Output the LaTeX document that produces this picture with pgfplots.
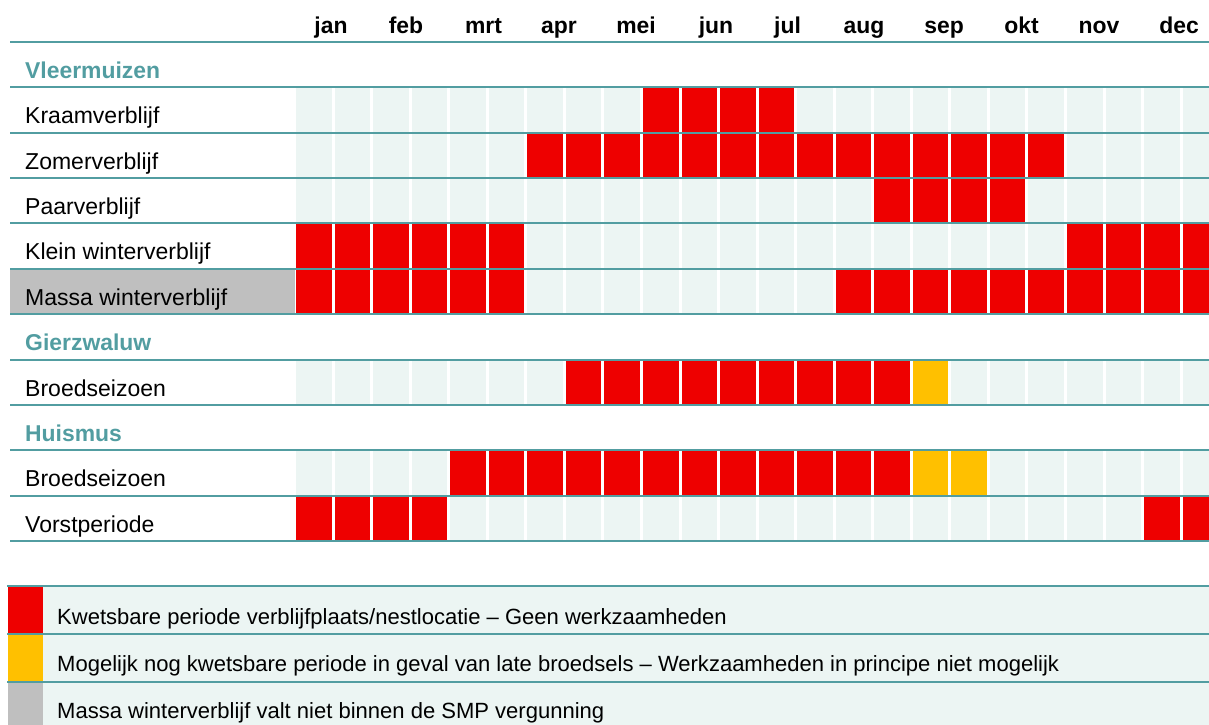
\documentclass[border=0pt]{standalone}
\usepackage{fontspec}
\setmainfont{Liberation Sans}
\usepackage{pgfplots}
\usepackage{pgfplotstable}
\pgfplotsset{compat=1.18}
\definecolor{teal1}{RGB}{82,157,161}
\definecolor{cellbg}{RGB}{236,245,243}
\definecolor{cred}{RGB}{238,0,0}
\definecolor{cyel}{RGB}{255,192,0}
\definecolor{cgray}{RGB}{191,191,191}
\pgfdeclareplotmark{cell}{\pgfpathrectangle{\pgfpoint{-17.775bp}{-23bp}}{\pgfpoint{35.55bp}{46bp}}\pgfusepathqfill}
% codes: 0 = free, 1 = kwetsbaar (rood), 2 = mogelijk kwetsbaar (geel)
\pgfplotstableread{
y c0 c1 c2 c3 c4 c5 c6 c7 c8 c9 c10 c11 c12 c13 c14 c15 c16 c17 c18 c19 c20 c21 c22 c23
110.0 0 0 0 0 0 0 0 0 0 1 1 1 1 0 0 0 0 0 0 0 0 0 0 0
155.5 0 0 0 0 0 0 1 1 1 1 1 1 1 1 1 1 1 1 1 1 0 0 0 0
200.5 0 0 0 0 0 0 0 0 0 0 0 0 0 0 0 1 1 1 1 0 0 0 0 0
246.0 1 1 1 1 1 1 0 0 0 0 0 0 0 0 0 0 0 0 0 0 1 1 1 1
291.5 1 1 1 1 1 1 0 0 0 0 0 0 0 0 1 1 1 1 1 1 1 1 1 1
382.5 0 0 0 0 0 0 0 1 1 1 1 1 1 1 1 1 2 0 0 0 0 0 0 0
473.0 0 0 0 0 1 1 1 1 1 1 1 1 1 1 1 1 2 2 0 0 0 0 0 0
518.5 1 1 1 1 0 0 0 0 0 0 0 0 0 0 0 0 0 0 0 0 0 0 1 1
}\cells
\newcommand\mlab[2]{\node[anchor=base, inner sep=0pt, font=\bfseries\fontsize{23}{23}\selectfont] at (axis cs:#1,33.5) {#2};}
\newcommand\glab[2]{\node[anchor=base west, inner sep=0pt, text=teal1, font=\bfseries\fontsize{23}{23}\selectfont] at (axis cs:25,#1) {#2};}
\newcommand\rlab[2]{\node[anchor=base west, inner sep=0pt, font=\fontsize{23.1}{23}\selectfont] at (axis cs:25,#1) {#2};}
\newcommand\llab[2]{\node[anchor=base west, inner sep=0pt, font=\fontsize{22.1}{22}\selectfont] at (axis cs:57,#1) {#2};}
\begin{document}
\begin{tikzpicture}
\begin{axis}[name=ax, hide axis, scale only axis, width=1209bp, height=725bp,
  xmin=0, xmax=1209, ymin=0, ymax=725, y dir=reverse,
  clip marker paths=true,
  scatter/classes={0={mark=cell,cellbg},1={mark=cell,cred},2={mark=cell,cyel}}]
% grey label background
\fill[cgray] (axis cs:10,269) rectangle (axis cs:295,314);
% cells
\pgfplotsinvokeforeach{0,...,23}{
  \addplot[scatter, only marks, scatter src=explicit symbolic]
    table[x expr={294.5+38.55*(#1+0.5)}, y=y, meta=c#1]{\cells};
}
% legend backgrounds
\fill[cred] (axis cs:8,586) rectangle (axis cs:43,634);
\fill[cyel] (axis cs:8,634) rectangle (axis cs:43,682);
\fill[cgray] (axis cs:8,682) rectangle (axis cs:43,730);
\fill[cellbg] (axis cs:43,586) rectangle (axis cs:1209,730);
% rules
\pgfplotsinvokeforeach{42,87,133,178,223,269,314,360,405,450,496,541}{
  \draw[teal1, line width=2.6bp] (axis cs:10,#1) -- (axis cs:1209,#1);
}
\pgfplotsinvokeforeach{586,634,682}{
  \draw[teal1, line width=2.6bp] (axis cs:7,#1) -- (axis cs:1209,#1);
}
% month labels
\mlab{331}{jan}\mlab{406}{feb}\mlab{483.5}{mrt}\mlab{559}{apr}\mlab{636}{mei}\mlab{716}{jun}
\mlab{787.5}{jul}\mlab{864}{aug}\mlab{944}{sep}\mlab{1021.5}{okt}\mlab{1099}{nov}\mlab{1179}{dec}
% group headers
\glab{78.3}{Vleermuizen}\glab{350.3}{Gierzwaluw}\glab{441.3}{Huismus}
% row labels
\rlab{123.3}{Kraamverblijf}
\rlab{169.3}{Zomerverblijf}
\rlab{214.3}{Paarverblijf}
\rlab{259.3}{Klein winterverblijf}
\rlab{305.3}{Massa winterverblijf}
\rlab{396.3}{Broedseizoen}
\rlab{486.3}{Broedseizoen}
\rlab{532.3}{Vorstperiode}
% legend texts
\llab{624.3}{Kwetsbare periode verblijfplaats/nestlocatie \textendash{} Geen werkzaamheden}
\llab{671.7}{Mogelijk nog kwetsbare periode in geval van late broedsels \textendash{} Werkzaamheden in principe niet mogelijk}
\llab{718}{Massa winterverblijf valt niet binnen de SMP vergunning}
\end{axis}
\pgfresetboundingbox
\path (ax.south west) rectangle (ax.north east);
\end{tikzpicture}
\end{document}
